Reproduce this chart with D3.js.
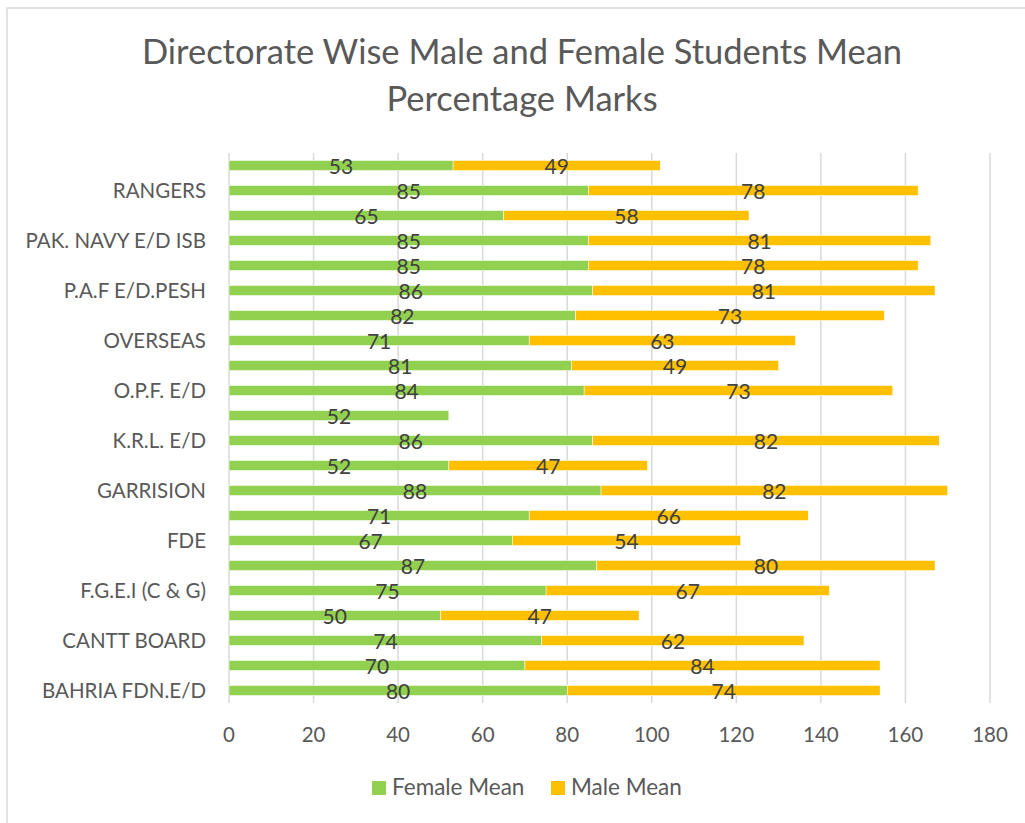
<!DOCTYPE html>
<html>
<head>
<meta charset="utf-8">
<script src="https://cdn.jsdelivr.net/npm/d3@7"></script>
<style>
	body { margin: 0; background: #fff; }
	text { font-family: Lato, "Open Sans", sans-serif; }
</style>
</head>
<body>
<div id="chart"></div>
<script>

// categories from bottom to top, excel only shows every other label
const categories = [
	"BAHRIA FDN.E/D", "", "CANTT BOARD", "", "F.G.E.I (C & G)", "", "FDE", "",
	"GARRISION", "", "K.R.L. E/D", "", "O.P.F. E/D", "", "OVERSEAS", "",
	"P.A.F E/D.PESH", "", "PAK. NAVY E/D ISB", "", "RANGERS", ""
];

const femaleMean = [80, 70, 74, 50, 75, 87, 67, 71, 88, 52, 86, 52, 84, 81, 71, 82, 86, 85, 85, 65, 85, 53];
const maleMean   = [74, 84, 62, 47, 67, 80, 54, 66, 82, 47, 82, null, 73, 49, 63, 73, 81, 78, 81, 58, 78, 49];

const xTicks = [0, 20, 40, 60, 80, 100, 120, 140, 160, 180];

const seriesNames = ["Female Mean", "Male Mean"];
const seriesColors = ["#92D050", "#FFC000"];

function drawChart(){

	const width = 1025;
	const height = 823;

	let svg = d3.select("#chart")
		.append("svg")
		.attr("width", width)
		.attr("height", height);

	//frame (only top and left edges are visible in the picture)
	svg.append("rect")
		.attr("x", 7)
		.attr("y", 8)
		.attr("width", 1040)
		.attr("height", 840)
		.attr("fill", "none")
		.attr("stroke", "#d9d9d9")
		.attr("stroke-width", 1.5);

	//title
	let title = svg.append("text")
		.attr("text-anchor", "middle")
		.attr("fill", "#595959")
		.attr("font-size", "34.5px");

	title.append("tspan")
		.attr("x", 522)
		.attr("y", 64)
		.text("Directorate Wise Male and Female Students Mean");

	title.append("tspan")
		.attr("x", 522)
		.attr("y", 111)
		.text("Percentage Marks");

	let x = d3.scaleLinear()
		.domain([0, 180])
		.range([229, 990]);

	let y = d3.scaleBand()
		.domain(d3.range(categories.length))
		.range([703, 153])
		.paddingInner(0.6)
		.paddingOuter(0.3);

	//gridlines
	svg.append("g")
		.selectAll("line")
		.data(xTicks)
		.join("line")
		.attr("x1", d => x(d))
		.attr("x2", d => x(d))
		.attr("y1", 153)
		.attr("y2", 703)
		.attr("stroke", "#d9d9d9")
		.attr("stroke-width", 1.5);

	//stack the two series
	let rows = categories.map((c, i) => ({
		index: i,
		female: femaleMean[i],
		male: maleMean[i] == null ? 0 : maleMean[i]
	}));

	let stacked = d3.stack().keys(["female", "male"])(rows);

	let layers = svg.append("g")
		.selectAll("g")
		.data(stacked)
		.join("g")
		.attr("fill", (d, i) => seriesColors[i]);

	layers.selectAll("rect")
		.data(d => d)
		.join("rect")
		.attr("x", d => x(d[0]))
		.attr("y", d => y(d.data.index))
		.attr("width", d => x(d[1]) - x(d[0]))
		.attr("height", y.bandwidth())
		.attr("stroke", "#fff")
		.attr("stroke-width", 0.5);

	//data labels
	stacked.forEach((layer, li) => {
		svg.append("g")
			.selectAll("text")
			.data(layer.filter(d => d[1] - d[0] > 0))
			.join("text")
			.attr("x", d => x((d[0] + d[1]) / 2))
			.attr("y", d => y(d.data.index) + y.bandwidth() / 2 + 8.5)
			.attr("text-anchor", "middle")
			.attr("fill", "#404040")
			.attr("font-size", "21px")
			.text(d => Math.round(d[1] - d[0]));
	});

	//category labels
	svg.append("g")
		.selectAll("text")
		.data(categories.map((c, i) => ({ name: c, index: i })).filter(d => d.name !== ""))
		.join("text")
		.attr("x", 206)
		.attr("y", d => y(d.index) + y.bandwidth() / 2 + 7.5)
		.attr("text-anchor", "end")
		.attr("fill", "#595959")
		.attr("font-size", "20.5px")
		.text(d => d.name);

	//x axis labels
	svg.append("g")
		.selectAll("text")
		.data(xTicks)
		.join("text")
		.attr("x", d => x(d))
		.attr("y", 742)
		.attr("text-anchor", "middle")
		.attr("fill", "#595959")
		.attr("font-size", "20.5px")
		.text(d => d);

	//legend
	const legendX = [372, 551];

	let legend = svg.append("g")
		.selectAll("g")
		.data(seriesNames)
		.join("g");

	legend.append("rect")
		.attr("x", (d, i) => legendX[i])
		.attr("y", 781)
		.attr("width", 14)
		.attr("height", 14)
		.attr("fill", (d, i) => seriesColors[i]);

	legend.append("text")
		.attr("x", (d, i) => legendX[i] + 20)
		.attr("y", 795)
		.attr("fill", "#595959")
		.attr("font-size", "22.5px")
		.text(d => d);
}

drawChart();
</script>
</body>
</html>
